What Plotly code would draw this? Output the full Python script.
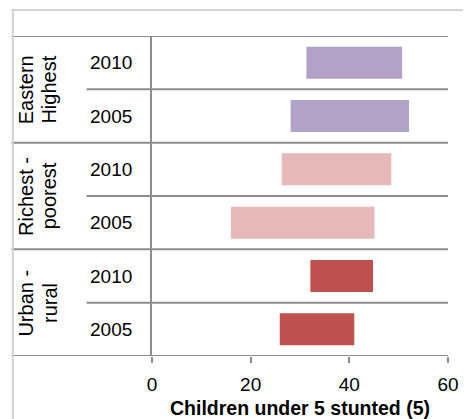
import plotly.graph_objs as go

# rows top to bottom
group_line1 = ["Eastern", "Richest -", "Urban -"]
group_line2 = ["Highest", "poorest", "rural"]
years = ["2010", "2005", "2010", "2005", "2010", "2005"]
low = [31.3, 28.1, 26.3, 16.0, 32.1, 25.9]
high = [50.7, 52.1, 48.5, 45.1, 44.8, 41.0]
colors = ["#B3A2C7", "#B3A2C7", "#E6B9B8", "#E6B9B8", "#C0504D", "#C0504D"]

FONT = "Liberation Sans, Arial, sans-serif"
LINE = "#8c8c8c"

ypos = [5.5 - i for i in range(6)]

fig = go.Figure()
fig.add_trace(go.Bar(
    y=ypos, x=[h - l for l, h in zip(low, high)], base=low,
    orientation="h", width=0.6,
    marker=dict(color=colors, line=dict(width=0)),
    showlegend=False, hoverinfo="skip"
))

shapes = []
# group borders
for yv in [0, 2, 4, 6]:
    shapes.append(dict(type="line", xref="paper", yref="y", x0=-0.475, x1=1,
                       y0=yv, y1=yv, line=dict(color=LINE, width=2)))
# year borders
for yv in [1, 3, 5]:
    shapes.append(dict(type="line", xref="paper", yref="y", x0=-0.221, x1=1,
                       y0=yv, y1=yv, line=dict(color=LINE, width=2)))
# outer frame
shapes.append(dict(type="line", xref="paper", yref="paper", x0=-0.475, x1=1.1,
                   y0=1.081, y1=1.081, line=dict(color="#d4d4d4", width=2)))
shapes.append(dict(type="line", xref="paper", yref="paper", x0=-0.47, x1=-0.47,
                   y0=1.081, y1=-0.3, line=dict(color="#d4d4d4", width=2)))

annotations = []
for i in range(3):
    for txt, xp in [(group_line1[i], -0.426), (group_line2[i], -0.347)]:
        annotations.append(dict(text=txt, xref="paper", yref="y", x=xp, y=5 - 2 * i,
                                xanchor="center", yanchor="middle",
                                textangle=-90, showarrow=False,
                                font=dict(family=FONT, size=20, color="#000")))
for yv, yr in zip(ypos, years):
    annotations.append(dict(text=yr, xref="paper", yref="y", x=-0.139, y=yv,
                            xanchor="center", yanchor="middle",
                            showarrow=False, font=dict(family=FONT, size=19, color="#000")))
annotations.append(dict(text="<b>Children under 5 stunted (5)</b>", xref="paper", yref="paper",
                        x=0.5, y=-0.1625, xanchor="center", yanchor="middle", showarrow=False,
                        font=dict(family=FONT, size=19.5, color="#000")))

fig.update_layout(
    width=463, height=411,
    margin=dict(l=144, r=16, t=28, b=63),
    paper_bgcolor="white", plot_bgcolor="white",
    shapes=shapes, annotations=annotations,
    xaxis=dict(range=[0, 60], tickvals=[0, 20, 40, 60], showgrid=False, zeroline=False,
               showline=False, ticks="outside", ticklen=6, tickwidth=2, tickcolor=LINE,
               ticklabelstandoff=5,
               tickfont=dict(family=FONT, size=19, color="#000")),
    yaxis=dict(range=[0, 6], showgrid=False, zeroline=False, showticklabels=False,
               showline=True, linecolor=LINE, linewidth=2),
)

fig.write_html("out.html")
